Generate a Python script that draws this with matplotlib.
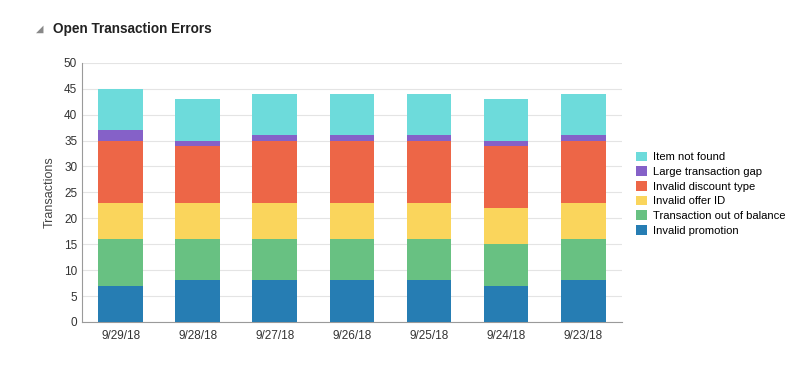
import numpy as np
import matplotlib
matplotlib.use('Agg')
import matplotlib.pyplot as plt
from matplotlib.patches import Patch

plt.rcParams['font.family'] = ['Liberation Sans', 'DejaVu Sans']

# Datos
fechas = ['9/29/18', '9/28/18', '9/27/18', '9/26/18', '9/25/18', '9/24/18', '9/23/18']
invalid_promotion = [7, 8, 8, 8, 8, 7, 8]
out_of_balance = [9, 8, 8, 8, 8, 8, 8]
invalid_offer = [7, 7, 7, 7, 7, 7, 7]
invalid_discount = [12, 11, 12, 12, 12, 12, 12]
large_gap = [2, 1, 1, 1, 1, 1, 1]
item_not_found = [8, 8, 8, 8, 8, 8, 8]

series = [
    ('Invalid promotion', invalid_promotion, '#267db3'),
    ('Transaction out of balance', out_of_balance, '#68c182'),
    ('Invalid offer ID', invalid_offer, '#fad55c'),
    ('Invalid discount type', invalid_discount, '#ed6647'),
    ('Large transaction gap', large_gap, '#8561c8'),
    ('Item not found', item_not_found, '#6ddbdb'),
]

fig = plt.figure(figsize=(7.89, 3.81), dpi=100)
ax = fig.add_axes([0.104, 0.155, 0.684, 0.68])

x = np.arange(len(fechas))
base = np.zeros(len(fechas))
for nombre, valores, color in series:
    ax.bar(x, valores, bottom=base, width=0.58, color=color,
           linewidth=0, zorder=3)
    base += np.array(valores)

ax.set_xlim(-0.5, len(fechas) - 0.5)
ax.set_ylim(0, 50)
ax.set_yticks(range(0, 51, 5))
ax.set_xticks(x)
ax.set_xticklabels(fechas)
ax.tick_params(axis='both', length=0, labelsize=8.5, colors='#333333')
ax.tick_params(axis='x', pad=6)
ax.grid(axis='y', color='#e4e4e4', linewidth=0.8, zorder=0)
for s in ['top', 'right']:
    ax.spines[s].set_visible(False)
ax.spines['left'].set_color('#9a9a9a')
ax.spines['bottom'].set_color('#9a9a9a')
ax.set_ylabel('Transactions', fontsize=9, color='#444444', labelpad=6)

# Leyenda (orden invertido)
handles = [Patch(facecolor=c, label=n) for n, v, c in series[::-1]]
fig.legend(handles=handles, loc='upper left', bbox_to_anchor=(0.801, 0.614),
           frameon=False, fontsize=8.1, handlelength=0.95, handleheight=0.95,
           handletextpad=0.5, labelspacing=0.35, borderaxespad=0)

# Título
fig.text(0.067, 0.925, 'Open Transaction Errors', fontsize=9.8,
         fontweight='bold', color='#222222', va='center')
fig.text(0.045, 0.924, '\u25e2', fontsize=7, color='#888888', va='center',
         family=['DejaVu Sans'])

fig.savefig('out.png', dpi=100)
